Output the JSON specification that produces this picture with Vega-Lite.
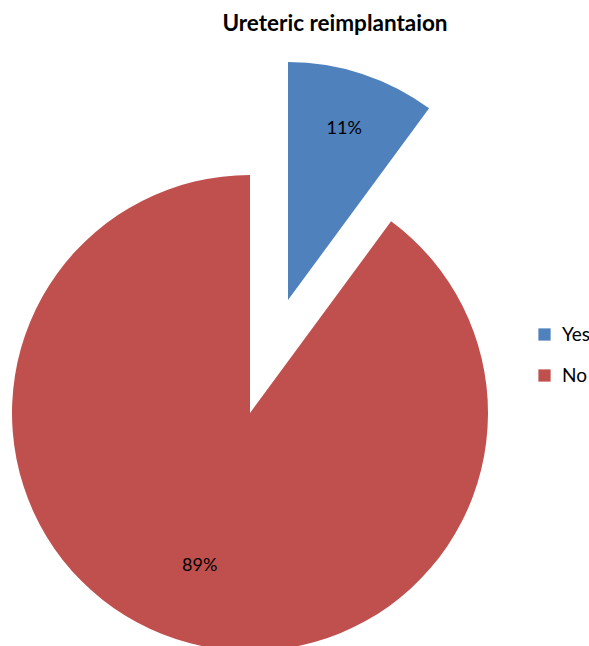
{
  "$schema": "https://vega.github.io/schema/vega-lite/v6.json",
  "width": 500,
  "height": 776,
  "padding": {"top": 12, "left": 0, "right": 0, "bottom": 0},
  "background": "white",
  "title": {
    "text": "Ureteric reimplantaion",
    "font": "Lato",
    "fontSize": 22.5,
    "fontWeight": "bold",
    "color": "#000000",
    "anchor": "middle",
    "dx": 85,
    "dy": 14,
    "offset": 4
  },
  "data": {
    "values": [
      {"category": "Yes", "value": 10.1, "label": "11%"},
      {"category": "No", "value": 89.9, "label": "89%"}
    ]
  },
  "encoding": {
    "theta": {"field": "value", "type": "quantitative", "stack": true},
    "order": {"field": "value", "type": "quantitative", "sort": "ascending"}
  },
  "layer": [
    {
      "mark": {
        "type": "arc",
        "outerRadius": 238,
        "xOffset": {"expr": "datum.category == 'Yes' ? 38 : 0"},
        "yOffset": {"expr": "datum.category == 'Yes' ? -113 : 0"}
      },
      "encoding": {
        "color": {
          "field": "category",
          "type": "nominal",
          "scale": {"domain": ["Yes", "No"], "range": ["#4F81BD", "#C0504D"]},
          "legend": {
            "title": null,
            "orient": "none",
            "legendX": 535,
            "legendY": 300,
            "symbolType": "square",
            "symbolSize": 150,
            "symbolStrokeWidth": 0,
            "labelFont": "Lato",
            "labelFontSize": 19,
            "labelColor": "#000000",
            "rowPadding": 21,
            "labelOffset": 8
          }
        }
      }
    },
    {
      "mark": {
        "type": "text",
        "font": "Lato",
        "fontSize": 18,
        "color": "#000000",
        "radius": {"expr": "datum.category == 'Yes' ? 180 : 161"},
        "xOffset": {"expr": "datum.category == 'Yes' ? 38 : 0"},
        "yOffset": {"expr": "datum.category == 'Yes' ? -113 : 0"}
      },
      "encoding": {
        "text": {"field": "label", "type": "nominal"}
      }
    }
  ]
}
